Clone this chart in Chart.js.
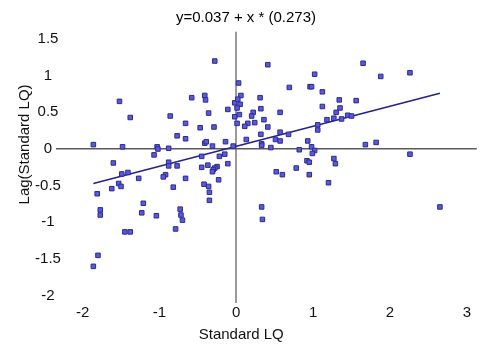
<!DOCTYPE html>
<html>
<head>
<meta charset="utf-8">
<script src="https://cdn.jsdelivr.net/npm/chart.js@4/dist/chart.umd.min.js"></script>
<style>
  html, body { margin: 0; padding: 0; background: #ffffff; }
  #wrap { width: 481px; height: 345px; }
</style>
</head>
<body>
<div id="wrap"><canvas id="c" width="481" height="345"></canvas></div>
<script>
// ---- Data ----
const chartTitle = "y=0.037 + x * (0.273)";
const xAxisTitle = "Standard LQ";
const yAxisTitle = "Lag(Standard LQ)";
const intercept = 0.037;
const slope = 0.273;

const xValues = [
  -0.28, -1.52, -1.38, -0.86, -0.58, -0.41, -0.40, -0.36, -0.66, -0.47, -0.29, -0.77, -0.66,
  -0.11, -0.02, -0.02, -0.41, -0.39, -0.31, -0.14, -0.04, -1.86, -1.48, -1.03, -1.02, -0.88,
  0.41, 1.65, 1.02, 1.88, 2.26, 0.03, 0.69, 0.96, 0.98, 1.12, 0.06, 0.31, 1.34, 1.56, 0.02,
  0.05, 0.01, 0.32, 0.57, 0.22, 0.04, 0.20, 0.36, 0.15, 0.24, 0.01, 0.11, 0.41, 0.32, 0.57,
  0.51, 0.57, 0.13, 0.33, 0.33, 0.45, 1.12, 1.35, 1.30, 1.27, 1.37, 1.18, 1.45, 1.50, 1.06,
  1.06, 0.68, 0.93, 0.98, 1.68, 1.82,
  0.82, 1.02, 0.99, 0.92, 0.95, 1.27, 1.29, 0.52, 0.60, 0.78, 0.95, 1.20, 2.26, 0.33, 0.34, 2.65,
  -0.11, -1.07, -0.45, -0.22, -0.15, -1.60, -0.88, -0.88, -0.77, -1.49, -1.41, -1.27, -1.53,
  -1.50, -1.62, -0.92, -0.95, -0.82, -1.81, -1.21, -1.77, -1.77, -1.23, -1.04, -0.79, -1.45,
  -1.38, -1.80, -1.86, -0.45, -0.37, -0.25, -0.28, -0.30, -0.31, -0.66, -0.23, -0.42, -0.36,
  -0.35, -0.35, -0.73, -0.72, -0.70
];
const yValues = [
  1.20, 0.65, 0.43, 0.45, 0.70, 0.73, 0.67, 0.49, 0.35, 0.29, 0.30, 0.18, 0.14,
  0.54, 0.63, 0.44, 0.08, 0.10, 0.04, 0.10, 0.04, 0.06, 0.03, 0.03, 0.00, 0.01,
  1.15, 1.17, 1.02, 0.99, 1.04, 0.90, 0.84, 0.85, 0.85, 0.78, 0.73, 0.70, 0.67, 0.66, 0.68,
  0.61, 0.56, 0.55, 0.50, 0.50, 0.47, 0.45, 0.40, 0.35, 0.36, 0.35, 0.31, 0.30, 0.20, 0.23,
  0.13, 0.11, 0.13, 0.07, 0.05, 0.02, 0.58, 0.56, 0.50, 0.42, 0.41, 0.40, 0.46, 0.45, 0.33,
  0.26, 0.20, 0.11, 0.03, 0.06, 0.09,
  -0.01, -0.02, -0.06, -0.16, -0.18, -0.13, -0.20, -0.31, -0.35, -0.26, -0.35, -0.46, -0.07, -0.79, -0.96, -0.79,
  -0.20, -0.08, -0.10, -0.10, -0.07, -0.19, -0.18, -0.23, -0.23, -0.34, -0.32, -0.40, -0.47,
  -0.51, -0.54, -0.35, -0.38, -0.52, -0.61, -0.74, -0.83, -0.90, -0.87, -0.91, -1.09, -1.13,
  -1.13, -1.45, -1.60, -0.25, -0.22, -0.24, -0.26, -0.28, -0.31, -0.40, -0.42, -0.48, -0.51,
  -0.59, -0.70, -0.82, -0.90, -0.97
];
const xTickValues = [-2, -1, 0, 1, 2, 3];
const yTickValues = [-2, -1.5, -1, -0.5, 0, 0.5, 1, 1.5];

// ---- Build datasets from the arrays ----
const points = xValues.map((x, i) => ({ x: x, y: yValues[i] }));
const xMin = Math.min(...xValues);
const xMax = Math.max(...xValues);
const fitLine = [
  { x: xMin, y: intercept + slope * xMin },
  { x: xMax, y: intercept + slope * xMax }
];

const FONT = "'Liberation Sans', Arial, sans-serif";
const fmt = v => { const r = Math.round(v * 10) / 10; return (r === 0 ? 0 : r).toString(); };
const isZero = ctx => ctx.tick && Math.abs(ctx.tick.value) < 1e-9;

new Chart(document.getElementById('c'), {
  type: 'scatter',
  data: {
    datasets: [
      {
        label: 'LQ',
        data: points,
        pointStyle: 'rect',
        pointRadius: 3.2,
        pointHoverRadius: 3.2,
        backgroundColor: '#5757ee',
        borderColor: '#2d2d86',
        borderWidth: 1
      },
      {
        label: 'fit',
        type: 'line',
        data: fitLine,
        showLine: true,
        borderColor: '#22228c',
        borderWidth: 1.5,
        pointRadius: 0,
        fill: false
      }
    ]
  },
  options: {
    responsive: false,
    animation: false,
    layout: { padding: { left: 11, right: 0, top: 0, bottom: 0 } },
    plugins: {
      legend: { display: false },
      tooltip: { enabled: false },
      title: {
        display: true,
        text: chartTitle,
        color: '#000',
        font: { family: FONT, size: 15, weight: 'normal' },
        padding: { top: 8.7, bottom: 5 }
      }
    },
    scales: {
      x: {
        type: 'linear',
        min: -2.35,
        max: 3.13,
        afterBuildTicks: s => { s.ticks = xTickValues.map(v => ({ value: v })); },
        afterFit: s => { s.height = 42; },
        border: { display: false },
        grid: {
          drawTicks: false,
          color: ctx => isZero(ctx) ? '#9a9a9a' : 'rgba(0,0,0,0)',
          lineWidth: 2
        },
        ticks: {
          padding: 1,
          color: '#111',
          font: { family: FONT, size: 15 },
          callback: v => fmt(v)
        },
        title: {
          display: true,
          text: xAxisTitle + ' '.repeat(12),
          color: '#111',
          font: { family: FONT, size: 15 },
          padding: { top: 0, bottom: 1 }
        }
      },
      y: {
        type: 'linear',
        min: -2.1,
        max: 1.6,
        afterBuildTicks: s => { s.ticks = yTickValues.map(v => ({ value: v })); },
        afterFit: s => { s.width = 44.7; },
        border: { display: false },
        grid: {
          drawTicks: false,
          color: ctx => isZero(ctx) ? '#5a5a5a' : 'rgba(0,0,0,0)',
          lineWidth: 1.5
        },
        ticks: {
          mirror: true,
          padding: -20.6,
          crossAlign: 'center',
          color: '#111',
          font: { family: FONT, size: 15 },
          callback: v => fmt(v)
        },
        title: {
          display: true,
          text: ' '.repeat(11) + yAxisTitle,
          color: '#111',
          font: { family: FONT, size: 15 },
          padding: { top: 4.5, bottom: 0 }
        }
      }
    }
  }
});
</script>
</body>
</html>
